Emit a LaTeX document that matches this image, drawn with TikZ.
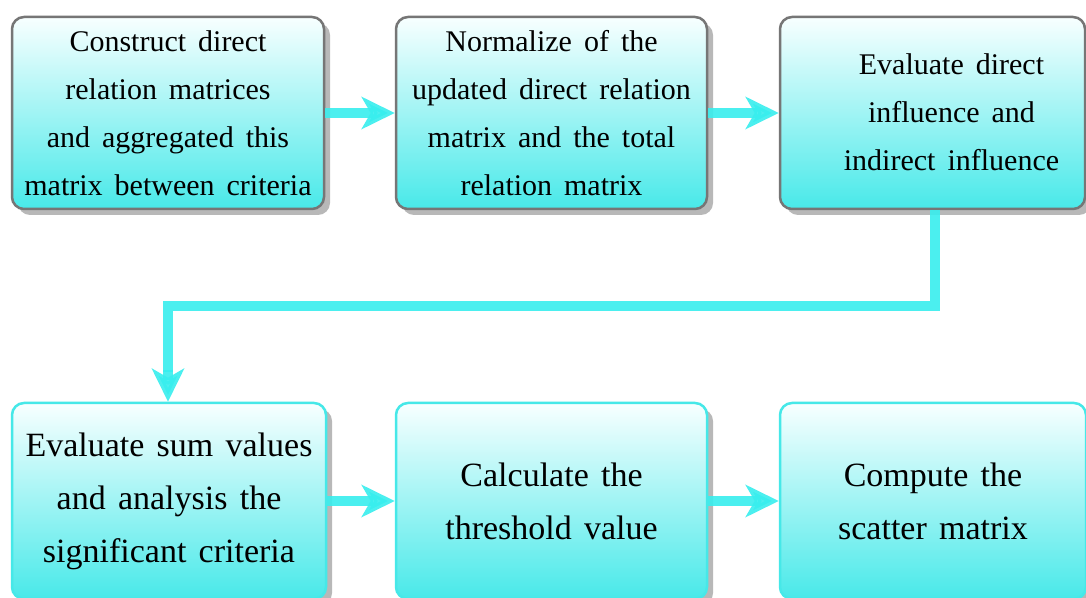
\documentclass[tikz,border=0pt]{standalone}
\usepackage{fontspec}
\setmainfont{Liberation Serif}
\usetikzlibrary{arrows.meta,shadows,positioning}
\definecolor{cyanline}{RGB}{56,238,238}
\definecolor{cyanbot}{RGB}{72,233,233}
\definecolor{cyantop}{RGB}{248,255,255}
\definecolor{grayborder}{RGB}{118,118,118}
\definecolor{cyanborder}{RGB}{70,232,232}
\newcommand\toptxt{\fontsize{30}{48}\selectfont\spaceskip=0.4em plus 0pt\relax}
\newcommand\bottxt{\fontsize{34}{53}\selectfont\spaceskip=0.36em plus 0pt\relax}
\tikzset{
  boxbase/.style={rectangle, rounded corners=12pt, line width=2.5pt,
    top color=cyantop, bottom color=cyanbot, align=center, inner sep=0pt,
    drop shadow={shadow xshift=6pt, shadow yshift=-6pt, fill=black!28, opacity=1}},
  topbox/.style={boxbase, draw=grayborder, font=\toptxt},
  botbox/.style={boxbase, draw=cyanborder, font=\bottxt},
  flow/.style={draw=cyanline, line width=9.5pt, opacity=0.9,
    -{Stealth[length=33pt, width=32pt, inset=9pt]}}
}
\begin{document}
\begin{tikzpicture}[x=1pt,y=1pt]
\useasboundingbox (0,0) rectangle (1086,597);
\clip (0,0) rectangle (1086,597);
\fill[white] (0,0) rectangle (1086,597);
% top row
\node[topbox, minimum width=312pt, minimum height=192pt] (b1) at (168,484)
  {Construct direct\\relation matrices\\and aggregated this\\matrix between criteria};
\node[topbox, minimum width=311pt, minimum height=192pt] (b2) at (551.5,484)
  {Normalize of the\\updated direct relation\\matrix and the total\\relation matrix};
\node[topbox, minimum width=305pt, minimum height=192pt] (b3) at (932.5,484)
  {\hspace*{38pt}\begin{tabular}{@{}c@{}}Evaluate direct\\influence and\\indirect influence\end{tabular}};
% bottom row
\node[botbox, minimum width=314pt, minimum height=196pt] (b4) at (169,96)
  {Evaluate sum values\\and analysis the\\significant criteria};
\node[botbox, minimum width=311pt, minimum height=196pt] (b5) at (551.5,96)
  {Calculate the\\threshold value};
\node[botbox, minimum width=306pt, minimum height=196pt] (b6) at (933,96)
  {Compute the\\scatter matrix};
% connectors
\coordinate (e1) at (935,291);
\coordinate (e2) at (168,291);
\draw[flow] (b1.east) -- (b2.west);
\draw[flow] (b2.east) -- (b3.west);
\draw[flow, -] ([xshift=2.5pt]b3.south) -- ([xshift=2.5pt]b3.south |- e1) -- (e2) -- ([yshift=30pt]b4.north -| e2);
\draw[flow, -{Stealth[length=33pt, width=32pt, inset=9pt]}] ([yshift=32pt]b4.north -| e2) -- (b4.north -| e2);
\draw[flow] (b4.east) -- (b5.west);
\draw[flow] (b5.east) -- (b6.west);
\end{tikzpicture}
\end{document}
